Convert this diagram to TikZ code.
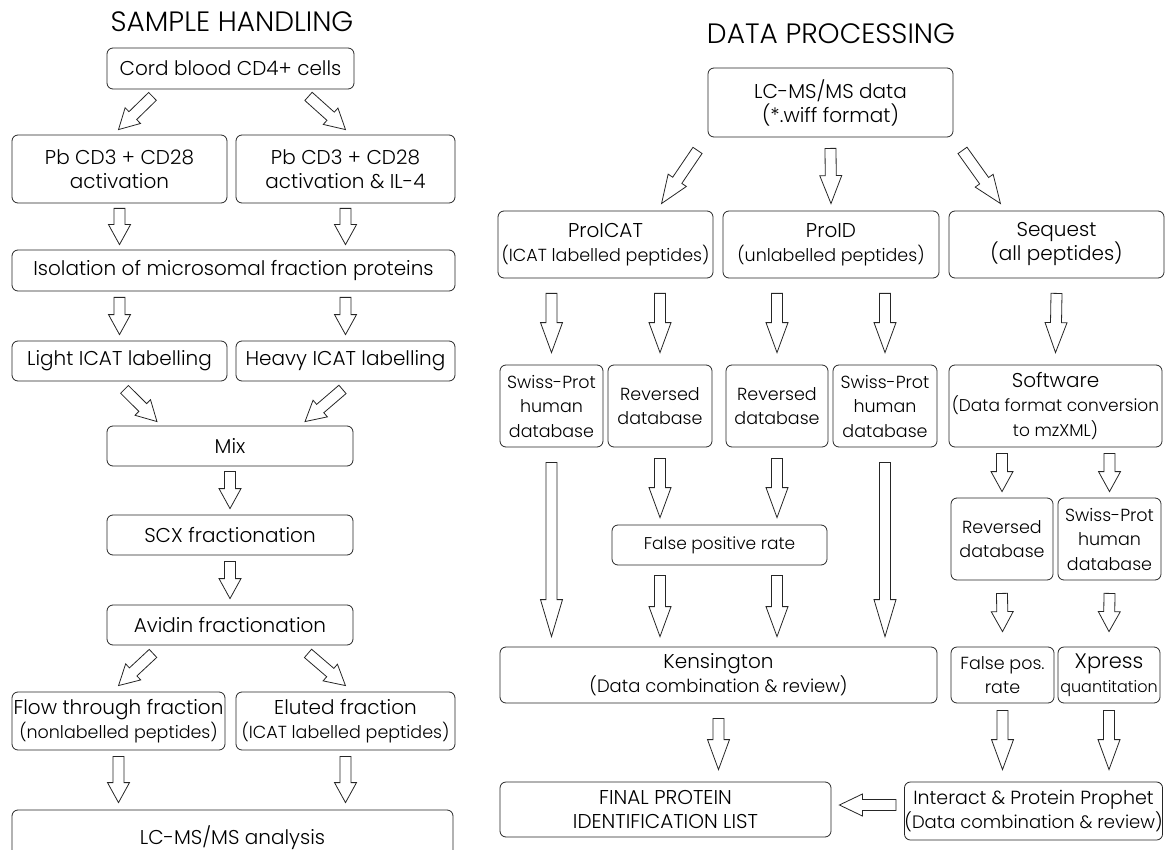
\documentclass[tikz,border=0pt]{standalone}
\usepackage{fontspec}
\IfFontExistsTF{Poppins Light}{\setmainfont{Poppins Light}}{\setmainfont{Poppins}}
\usetikzlibrary{calc}

\tikzset{
    stage/.style={draw=black!85, line width=0.8pt, rounded corners=6pt,
        align=center, inner sep=0pt, font=\fontsize{20}{24}\selectfont},
    midtext/.style={font=\fontsize{17.5}{24.5}\selectfont},
    smalltext/.style={font=\fontsize{17}{22}\selectfont},
    heading/.style={font=\fontsize{28}{32}\selectfont},
    fatline/.style={draw=black!85, line width=0.8pt, line join=miter},
}

% hollow block arrow: [head length]{tail}{tip}
\newcommand{\fatarrow}[3][20]{%
    \path let \p1=#2, \p2=#3 in
        \pgfextra{%
            \pgfmathsetmacro\faang{atan2(\y2-\y1,\x2-\x1)}%
            \pgfmathsetmacro\falen{veclen(\x2-\x1,\y2-\y1)}%
            \xdef\faang{\faang}\xdef\falen{\falen}%
            \xdef\fax{\x1}\xdef\fay{\y1}};
    \draw[fatline, shift={(\fax,\fay)}, rotate=\faang]
        (0pt,-5.5pt) -- ({\falen pt-#1pt},-5.5pt) -- ({\falen pt-#1pt},-11pt)
        -- (\falen pt,0pt) -- ({\falen pt-#1pt},11pt) -- ({\falen pt-#1pt},5.5pt)
        -- (0pt,5.5pt) -- cycle;
}

\begin{document}
\begin{tikzpicture}[x=1pt, y=-1pt]

    \useasboundingbox (0,0) rectangle (1167,850);

    % sample handling
    \node[heading] (sh) at (232,22) {SAMPLE HANDLING};

    \node[stage, minimum width=247pt, minimum height=41pt] (cord)
        at (230.5,68.5) {Cord blood CD4+ cells};
    \node[stage, minimum width=215pt, minimum height=68pt] (pbA)
        at (119.5,169) {Pb CD3 + CD28\\activation};
    \node[stage, minimum width=219pt, minimum height=68pt] (pbB)
        at (345.5,169) {Pb CD3 + CD28\\activation \& IL-4};
    \node[stage, minimum width=443pt, minimum height=41pt] (iso)
        at (233.5,270.5) {Isolation of microsomal fraction proteins};
    \node[stage, minimum width=215pt, minimum height=40pt] (light)
        at (119.5,361) {Light ICAT labelling};
    \node[stage, minimum width=219pt, minimum height=40pt] (heavy)
        at (345.5,361) {Heavy ICAT labelling};
    \node[stage, minimum width=246pt, minimum height=40pt] (mix)
        at (230,446) {Mix};
    \node[stage, minimum width=246pt, minimum height=40pt] (scx)
        at (230,535) {SCX fractionation};
    \node[stage, minimum width=246pt, minimum height=40pt] (avidin)
        at (230,625) {Avidin fractionation};
    \node[stage, minimum width=213pt, minimum height=58pt] (flow)
        at (118.5,721) {Flow through fraction\\{\fontsize{17.5}{22}\selectfont (nonlabelled peptides)}};
    \node[stage, minimum width=219pt, minimum height=58pt] (eluted)
        at (345.5,721) {Eluted fraction\\{\fontsize{17.5}{22}\selectfont (ICAT labelled peptides)}};
    \node[stage, minimum width=441pt, minimum height=56pt] (lcms)
        at (232.5,838) {LC-MS/MS analysis};

    \fatarrow{($(cord.south)+(-78,7)$)}{($(pbA.north)+(-1,-5)$)}
    \fatarrow{($(cord.south)+(78,7)$)}{($(pbB.north)+(0,-5)$)}
    \fatarrow{($(pbA.south)+(0,5)$)}{($(pbA.south|-iso.north)+(0,-5)$)}
    \fatarrow{($(pbB.south)+(0,5)$)}{($(pbB.south|-iso.north)+(0,-5)$)}
    \fatarrow{($(iso.south-|light.south)+(0,6)$)}{($(light.north)+(0,-6)$)}
    \fatarrow{($(iso.south-|heavy.south)+(0,6)$)}{($(heavy.north)+(0,-6)$)}
    \fatarrow{($(light.south)+(5,8)$)}{($(mix.north)+(-73,-4)$)}
    \fatarrow{($(heavy.south)+(-3,8)$)}{($(mix.north)+(75,-4)$)}
    \fatarrow{($(mix.south)+(0,5)$)}{($(scx.north)+(0,-6)$)}
    \fatarrow{($(scx.south)+(0,6)$)}{($(avidin.north)+(0,-6)$)}
    \fatarrow{($(avidin.south)+(-77,8)$)}{($(flow.north)+(0,-6)$)}
    \fatarrow{($(avidin.south)+(78,8)$)}{($(eluted.north)+(0,-6)$)}
    \fatarrow{($(flow.south)+(0,6)$)}{($(flow.south|-lcms.north)+(0,-7)$)}
    \fatarrow{($(eluted.south)+(0,6)$)}{($(eluted.south|-lcms.north)+(0,-7)$)}

    % data processing
    \node[heading] (dp) at (831,34) {DATA PROCESSING};

    \node[stage, minimum width=245pt, minimum height=69pt] (lcdata)
        at (830.5,102.5) {LC-MS/MS data\\(*.wiff format)};
    \node[stage, minimum width=215pt, minimum height=67pt] (proicat)
        at (605.5,244.5) {ProICAT\\{\fontsize{17.5}{22}\selectfont (ICAT labelled peptides)}};
    \node[stage, minimum width=216pt, minimum height=67pt] (proid)
        at (831,244.5) {ProID\\{\fontsize{17.5}{22}\selectfont (unlabelled peptides)}};
    \node[stage, minimum width=215pt, minimum height=67pt] (sequest)
        at (1056.5,244.5) {Sequest\\(all peptides)};

    \node[stage, midtext, minimum width=103pt, minimum height=82pt] (swissA)
        at (551.5,406) {Swiss-Prot\\human\\database};
    \node[stage, midtext, minimum width=104pt, minimum height=82pt] (revA)
        at (660,406) {Reversed\\database};
    \node[stage, midtext, minimum width=102pt, minimum height=82pt] (revB)
        at (777,406) {Reversed\\database};
    \node[stage, midtext, minimum width=104pt, minimum height=82pt] (swissB)
        at (885,406) {Swiss-Prot\\human\\database};
    \node[stage, font=\fontsize{17}{24.5}\selectfont, minimum width=213pt, minimum height=82pt] (software)
        at (1055.5,406) {{\fontsize{20}{24}\selectfont Software}\\(Data format conversion\\to mzXML)};

    \node[stage, smalltext, minimum width=215pt, minimum height=40pt] (fpr)
        at (719.5,545) {False positive rate};
    \node[stage, midtext, minimum width=102pt, minimum height=82pt] (revC)
        at (1002,539) {Reversed\\database};
    \node[stage, midtext, minimum width=103pt, minimum height=82pt] (swissC)
        at (1109.5,539) {Swiss-Prot\\human\\database};

    \node[stage, minimum width=437pt, minimum height=56pt] (kens)
        at (718.5,675) {Kensington\\{\fontsize{18}{22}\selectfont (Data combination \& review)}};
    \node[stage, midtext, minimum width=103pt, minimum height=56pt] (fpos)
        at (1002.5,675) {False pos.\\rate};
    \node[stage, minimum width=102pt, minimum height=56pt] (xpress)
        at (1109,675) {{\fontsize{21}{24}\selectfont Xpress}\\{\fontsize{16}{22}\selectfont quantitation}};

    \node[stage, minimum width=331pt, minimum height=55pt] (final)
        at (665.5,809.5) {FINAL PROTEIN\\IDENTIFICATION LIST};
    \node[stage, font=\fontsize{19}{24.5}\selectfont, minimum width=253pt, minimum height=58pt] (interact)
        at (1033.5,811) {Interact \& Protein Prophet\\{\fontsize{18}{22}\selectfont (Data combination \& review)}};

    \fatarrow[28]{($(lcdata.south)+(-133,13)$)}{($(proicat.north)+(56,-7)$)}
    \fatarrow[28]{($(lcdata.south)+(0,11)$)}{($(proid.north)+(0,-7)$)}
    \fatarrow[28]{($(lcdata.south)+(132,13)$)}{($(sequest.north)+(-56,-7)$)}

    \fatarrow[30]{($(proicat.south-|swissA.north)+(0,15)$)}{($(swissA.north)+(0,-12)$)}
    \fatarrow[30]{($(proicat.south-|revA.north)+(0,15)$)}{($(revA.north)+(0,-12)$)}
    \fatarrow[30]{($(proid.south-|revB.north)+(0,15)$)}{($(revB.north)+(0,-12)$)}
    \fatarrow[30]{($(proid.south-|swissB.north)+(0,15)$)}{($(swissB.north)+(0,-12)$)}
    \fatarrow[30]{($(sequest.south)+(0,15)$)}{($(software.north)+(0,-12)$)}

    \fatarrow[37]{($(swissA.south)+(0,15)$)}{($(swissA.south|-kens.north)+(0,-10)$)}
    \fatarrow[30]{($(revA.south)+(0,11)$)}{($(revA.south|-fpr.north)+(0,-7)$)}
    \fatarrow[30]{($(revB.south)+(0,11)$)}{($(revB.south|-fpr.north)+(0,-7)$)}
    \fatarrow[37]{($(swissB.south)+(0,15)$)}{($(swissB.south|-kens.north)+(0,-10)$)}
    \fatarrow[30]{($(fpr.south-|revA.south)+(0,10)$)}{($(revA.south|-kens.north)+(0,-10)$)}
    \fatarrow[30]{($(fpr.south-|revB.south)+(0,10)$)}{($(revB.south|-kens.north)+(0,-10)$)}

    \fatarrow{($(software.south-|revC.north)+(0,6)$)}{($(revC.north)+(0,-6)$)}
    \fatarrow{($(software.south-|swissC.north)+(0,6)$)}{($(swissC.north)+(0,-6)$)}
    \fatarrow{($(revC.south)+(0,13)$)}{($(fpos.north)+(0,-15)$)}
    \fatarrow{($(swissC.south)+(0,13)$)}{($(xpress.north)+(0,-15)$)}
    \fatarrow[30]{($(fpos.south)+(0,7)$)}{($(fpos.south|-interact.north)+(0,-12)$)}
    \fatarrow[30]{($(xpress.south)+(0,7)$)}{($(xpress.south|-interact.north)+(0,-12)$)}

    \fatarrow[30]{($(kens.south)+(0,15)$)}{($(kens.south|-final.north)+(0,-12)$)}
    \fatarrow[23]{($(interact.west)+(-8,-6)$)}{($(final.east)+(8,-4.5)$)}

\end{tikzpicture}
\end{document}
